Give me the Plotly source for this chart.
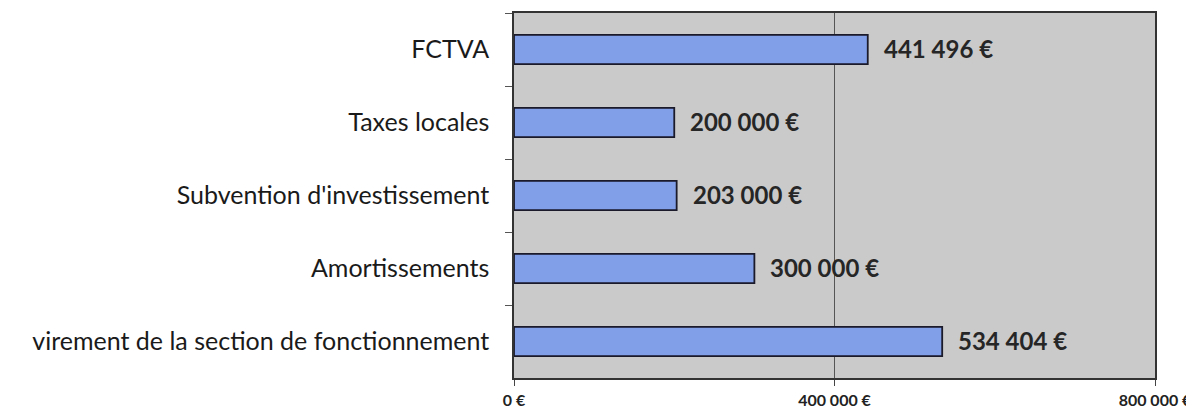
import plotly.graph_objects as go

categories = ["FCTVA", "Taxes locales", "Subvention d'investissement", "Amortissements",
              "virement de la section de fonctionnement"]
values = [441496, 200000, 203000, 300000, 534404]
tick_vals = [0, 400000, 800000]
tick_text = ["0 €", "400 000 €", "800 000 €"]

def fmt(v):
    return "<b>" + f"{v:,}".replace(",", " ") + " €</b>"

labels = [fmt(v) for v in values]

fig = go.Figure(go.Bar(
    y=categories, x=values, orientation="h",
    marker=dict(color="#809fe8", line=dict(color="#1a1a2a", width=1.8)),
    width=0.4,
))

for c, v, t in zip(categories, values, labels):
    fig.add_annotation(x=v, y=c, text=t, showarrow=False, xanchor="left",
                       xshift=14, yshift=1,
                       font=dict(family="Lato, sans-serif", size=24, color="#262626"))

# page body has an 8px default margin; figure is sized to fit inside the window
fig.update_layout(
    width=1186, height=402,
    margin=dict(l=506, r=39, t=5, b=32),
    paper_bgcolor="white", plot_bgcolor="#cacaca",
    showlegend=False,
    font=dict(family="Lato, sans-serif", color="#222222"),
    xaxis=dict(range=[0, 800000], tickvals=tick_vals, ticktext=tick_text,
               tickfont=dict(size=16, color="#222222", family="Lato, sans-serif", weight="bold"),
               showgrid=True, gridcolor="#555555", gridwidth=1,
               ticks="outside", ticklen=6, tickcolor="#444444",
               showline=True, linecolor="#333333", linewidth=1.5, mirror=True,
               ticklabelstandoff=1, zeroline=False, automargin=False),
    yaxis=dict(autorange="reversed", tickson="boundaries", ticks="outside",
               ticklen=7, tickcolor="#555555",
               tickfont=dict(size=25, color="#1a1a1a"),
               showline=True, linecolor="#333333", linewidth=1.5, mirror=True,
               showgrid=False, ticklabelstandoff=18, automargin=False),
)

fig.write_html("out.html")
